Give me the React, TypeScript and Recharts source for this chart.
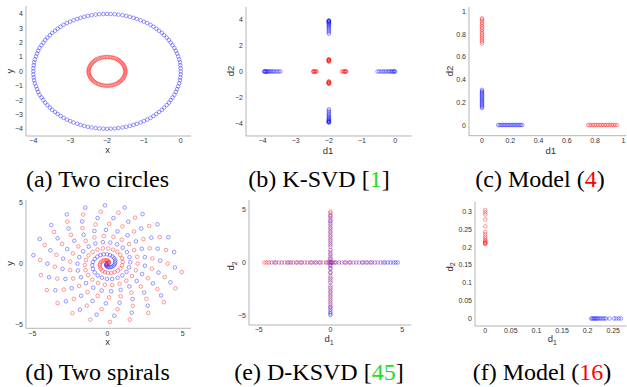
import React from 'react';
import { ScatterChart, Scatter, XAxis, YAxis } from 'recharts';

type Pt = [number, number];

// (a) two circles
const outerCircle: Pt[] = [
  [0, 0], [0, 0.21], [-0.01, 0.42], [-0.02, 0.63], [-0.04, 0.83], [-0.07, 1.04], [-0.1, 1.24], [-0.13, 1.43], [-0.17, 1.63], [-0.22, 1.82],
  [-0.27, 2], [-0.32, 2.18], [-0.38, 2.35], [-0.45, 2.52], [-0.51, 2.68], [-0.59, 2.83], [-0.66, 2.97], [-0.74, 3.11], [-0.82, 3.24], [-0.91, 3.36],
  [-1, 3.46], [-1.09, 3.56], [-1.19, 3.65], [-1.28, 3.73], [-1.38, 3.8], [-1.48, 3.86], [-1.58, 3.91], [-1.69, 3.95], [-1.79, 3.98], [-1.9, 3.99],
  [-2, 4], [-2.1, 3.99], [-2.21, 3.98], [-2.31, 3.95], [-2.42, 3.91], [-2.52, 3.86], [-2.62, 3.8], [-2.72, 3.73], [-2.81, 3.65], [-2.91, 3.56],
  [-3, 3.46], [-3.09, 3.36], [-3.18, 3.24], [-3.26, 3.11], [-3.34, 2.97], [-3.41, 2.83], [-3.49, 2.68], [-3.55, 2.52], [-3.62, 2.35], [-3.68, 2.18],
  [-3.73, 2], [-3.78, 1.82], [-3.83, 1.63], [-3.87, 1.43], [-3.9, 1.24], [-3.93, 1.04], [-3.96, 0.83], [-3.98, 0.63], [-3.99, 0.42], [-4, 0.21],
  [-4, 0], [-4, -0.21], [-3.99, -0.42], [-3.98, -0.63], [-3.96, -0.83], [-3.93, -1.04], [-3.9, -1.24], [-3.87, -1.43], [-3.83, -1.63], [-3.78, -1.82],
  [-3.73, -2], [-3.68, -2.18], [-3.62, -2.35], [-3.55, -2.52], [-3.49, -2.68], [-3.41, -2.83], [-3.34, -2.97], [-3.26, -3.11], [-3.18, -3.24], [-3.09, -3.36],
  [-3, -3.46], [-2.91, -3.56], [-2.81, -3.65], [-2.72, -3.73], [-2.62, -3.8], [-2.52, -3.86], [-2.42, -3.91], [-2.31, -3.95], [-2.21, -3.98], [-2.1, -3.99],
  [-2, -4], [-1.9, -3.99], [-1.79, -3.98], [-1.69, -3.95], [-1.58, -3.91], [-1.48, -3.86], [-1.38, -3.8], [-1.28, -3.73], [-1.19, -3.65], [-1.09, -3.56],
  [-1, -3.46], [-0.91, -3.36], [-0.82, -3.24], [-0.74, -3.11], [-0.66, -2.97], [-0.59, -2.83], [-0.51, -2.68], [-0.45, -2.52], [-0.38, -2.35], [-0.32, -2.18],
  [-0.27, -2], [-0.22, -1.82], [-0.17, -1.63], [-0.13, -1.43], [-0.1, -1.24], [-0.07, -1.04], [-0.04, -0.83], [-0.02, -0.63], [-0.01, -0.42], [0, -0.21],
];

const innerCircle: Pt[] = [
  [-1.5, 0], [-1.5, 0.09], [-1.51, 0.17], [-1.52, 0.26], [-1.53, 0.34], [-1.55, 0.42], [-1.57, 0.5], [-1.59, 0.57], [-1.62, 0.64], [-1.65, 0.71],
  [-1.68, 0.77], [-1.71, 0.82], [-1.75, 0.87], [-1.79, 0.91], [-1.83, 0.94], [-1.87, 0.97], [-1.91, 0.98], [-1.96, 1], [-2, 1], [-2.04, 1],
  [-2.09, 0.98], [-2.13, 0.97], [-2.17, 0.94], [-2.21, 0.91], [-2.25, 0.87], [-2.29, 0.82], [-2.32, 0.77], [-2.35, 0.71], [-2.38, 0.64], [-2.41, 0.57],
  [-2.43, 0.5], [-2.45, 0.42], [-2.47, 0.34], [-2.48, 0.26], [-2.49, 0.17], [-2.5, 0.09], [-2.5, 0], [-2.5, -0.09], [-2.49, -0.17], [-2.48, -0.26],
  [-2.47, -0.34], [-2.45, -0.42], [-2.43, -0.5], [-2.41, -0.57], [-2.38, -0.64], [-2.35, -0.71], [-2.32, -0.77], [-2.29, -0.82], [-2.25, -0.87], [-2.21, -0.91],
  [-2.17, -0.94], [-2.13, -0.97], [-2.09, -0.98], [-2.04, -1], [-2, -1], [-1.96, -1], [-1.91, -0.98], [-1.87, -0.97], [-1.83, -0.94], [-1.79, -0.91],
  [-1.75, -0.87], [-1.71, -0.82], [-1.68, -0.77], [-1.65, -0.71], [-1.62, -0.64], [-1.59, -0.57], [-1.57, -0.5], [-1.55, -0.42], [-1.53, -0.34], [-1.52, -0.26],
  [-1.51, -0.17], [-1.5, -0.09],
];

// (b) K-SVD codes
const ksvdBlue: Pt[] = [
  [-3.95, 0], [-3.94, 0], [-3.93, 0], [-3.91, 0], [-3.89, 0], [-3.87, 0], [-3.84, 0], [-3.81, 0], [-3.78, 0], [-3.74, 0], [-3.7, 0], [-3.66, 0], [-3.61, 0], [-3.56, 0], [-3.51, 0], [-3.46, 0],
  [0, 0], [-0.02, 0], [-0.04, 0], [-0.07, 0], [-0.1, 0], [-0.14, 0], [-0.18, 0], [-0.22, 0], [-0.27, 0], [-0.32, 0], [-0.37, 0], [-0.42, 0], [-0.48, 0], [-0.53, 0],
  [-2, 3.95], [-2, 3.94], [-2, 3.92], [-2, 3.9], [-2, 3.87], [-2, 3.83], [-2, 3.79], [-2, 3.74], [-2, 3.68], [-2, 3.61], [-2, 3.53], [-2, 3.45], [-2, 3.36], [-2, 3.26], [-2, 3.15], [-2, 3.04], [-2, 2.93],
  [-2, -3.95], [-2, -3.94], [-2, -3.92], [-2, -3.9], [-2, -3.87], [-2, -3.83], [-2, -3.79], [-2, -3.74], [-2, -3.68], [-2, -3.61], [-2, -3.53], [-2, -3.45], [-2, -3.36], [-2, -3.26], [-2, -3.15], [-2, -3.04], [-2, -2.93],
];

const ksvdRed: Pt[] = [
  [-2.47, 0], [-2.46, 0], [-2.45, 0], [-2.43, 0], [-2.41, 0], [-2.39, 0], [-2.37, 0],
  [-1.48, 0], [-1.49, 0], [-1.5, 0], [-1.52, 0], [-1.54, 0], [-1.57, 0], [-1.6, 0],
  [-2, 0.94], [-2, 0.93], [-2, 0.92], [-2, 0.9], [-2, 0.88], [-2, 0.85], [-2, 0.82], [-2, 0.79], [-2, 0.76],
  [-2, -0.94], [-2, -0.93], [-2, -0.92], [-2, -0.9], [-2, -0.88], [-2, -0.85], [-2, -0.82], [-2, -0.79], [-2, -0.76],
];

// (c) model (4)
const model4Blue: Pt[] = [
  [0, 0.15], [0, 0.16], [0, 0.17], [0, 0.18], [0, 0.19], [0, 0.2], [0, 0.21], [0, 0.22], [0, 0.23], [0, 0.24], [0, 0.25], [0, 0.26], [0, 0.27], [0, 0.28], [0, 0.29], [0, 0.3], [0, 0.31],
  [0.115, 0], [0.125, 0], [0.135, 0], [0.145, 0], [0.155, 0], [0.165, 0], [0.175, 0], [0.185, 0], [0.195, 0], [0.205, 0], [0.215, 0], [0.225, 0], [0.235, 0], [0.245, 0], [0.255, 0], [0.265, 0], [0.275, 0], [0.285, 0],
];

const model4Red: Pt[] = [
  [0, 0.72], [0, 0.735], [0, 0.75], [0, 0.765], [0, 0.78], [0, 0.795], [0, 0.81], [0, 0.825], [0, 0.84], [0, 0.855], [0, 0.87], [0, 0.885], [0, 0.9], [0, 0.915], [0, 0.93], [0, 0.94],
  [0.75, 0], [0.762, 0], [0.774, 0], [0.786, 0], [0.798, 0], [0.81, 0], [0.822, 0], [0.834, 0], [0.846, 0], [0.858, 0], [0.87, 0], [0.882, 0], [0.894, 0], [0.906, 0], [0.918, 0], [0.93, 0], [0.942, 0], [0.955, 0],
];

// (d) two spirals
const spiralRed: Pt[] = [
  [0.04, 0.01], [0.08, 0.05], [0.09, 0.1], [0.08, 0.16], [0.04, 0.22], [-0.03, 0.27], [-0.12, 0.29], [-0.22, 0.28], [-0.32, 0.24], [-0.42, 0.15],
  [-0.49, 0.03], [-0.52, -0.11], [-0.51, -0.27], [-0.45, -0.43], [-0.33, -0.58], [-0.17, -0.69], [0.03, -0.76], [0.25, -0.76], [0.47, -0.7], [0.68, -0.57],
  [0.85, -0.38], [0.97, -0.14], [1.01, 0.14], [0.97, 0.43], [0.85, 0.71], [0.65, 0.96], [0.37, 1.14], [0.04, 1.24], [-0.31, 1.25], [-0.67, 1.15],
  [-0.99, 0.96], [-1.26, 0.67], [-1.43, 0.3], [-1.51, -0.11], [-1.46, -0.53], [-1.29, -0.94], [-1.01, -1.3], [-0.63, -1.57], [-0.18, -1.72], [0.31, -1.75],
  [0.8, -1.64], [1.25, -1.39], [1.62, -1.01], [1.88, -0.54], [2, 0], [1.97, 0.56], [1.77, 1.11], [1.43, 1.59], [0.95, 1.96], [0.39, 2.19],
  [-0.24, 2.25], [-0.87, 2.14], [-1.45, 1.86], [-1.94, 1.41], [-2.3, 0.84], [-2.48, 0.17], [-2.48, -0.53], [-2.28, -1.21], [-1.89, -1.82], [-1.33, -2.31],
  [-0.66, -2.63], [0.1, -2.75], [0.87, -2.66], [1.59, -2.36], [2.21, -1.86], [2.68, -1.19], [2.95, -0.41], [2.99, 0.42], [2.8, 1.25], [2.38, 2],
  [1.76, 2.62], [0.99, 3.04], [0.11, 3.24], [-0.8, 3.19], [-1.67, 2.89], [-2.43, 2.35], [-3.02, 1.61], [-3.39, 0.72], [-3.5, -0.25], [-3.34, -1.22],
  [-2.91, -2.12], [-2.24, -2.87], [-1.38, -3.42], [-0.39, -3.71], [0.66, -3.72], [1.68, -3.44], [2.59, -2.87], [3.32, -2.07], [3.8, -1.09], [4, 0],
  [3.89, 1.11], [3.47, 2.17], [2.77, 3.07], [1.83, 3.75], [0.73, 4.16], [-0.45, 4.24], [-1.61, 4], [-2.68, 3.43], [-3.56, 2.59], [-4.18, 1.52],
  [-4.48, 0.31], [-4.43, -0.94], [-4.04, -2.15], [-3.32, -3.21], [-2.33, -4.04], [-1.14, -4.57], [0.17, -4.75], [1.48, -4.57], [2.71, -4.02], [3.74, -3.14],
  [4.51, -2.01], [4.93, -0.69],
];

const spiralBlue: Pt[] = [
  [-0.04, -0.01], [-0.08, -0.05], [-0.09, -0.1], [-0.08, -0.16], [-0.04, -0.22], [0.03, -0.27], [0.12, -0.29], [0.22, -0.28], [0.32, -0.24], [0.42, -0.15],
  [0.49, -0.03], [0.52, 0.11], [0.51, 0.27], [0.45, 0.43], [0.33, 0.58], [0.17, 0.69], [-0.03, 0.76], [-0.25, 0.76], [-0.47, 0.7], [-0.68, 0.57],
  [-0.85, 0.38], [-0.97, 0.14], [-1.01, -0.14], [-0.97, -0.43], [-0.85, -0.71], [-0.65, -0.96], [-0.37, -1.14], [-0.04, -1.24], [0.31, -1.25], [0.67, -1.15],
  [0.99, -0.96], [1.26, -0.67], [1.43, -0.3], [1.51, 0.11], [1.46, 0.53], [1.29, 0.94], [1.01, 1.3], [0.63, 1.57], [0.18, 1.72], [-0.31, 1.75],
  [-0.8, 1.64], [-1.25, 1.39], [-1.62, 1.01], [-1.88, 0.54], [-2, 0], [-1.97, -0.56], [-1.77, -1.11], [-1.43, -1.59], [-0.95, -1.96], [-0.39, -2.19],
  [0.24, -2.25], [0.87, -2.14], [1.45, -1.86], [1.94, -1.41], [2.3, -0.84], [2.48, -0.17], [2.48, 0.53], [2.28, 1.21], [1.89, 1.82], [1.33, 2.31],
  [0.66, 2.63], [-0.1, 2.75], [-0.87, 2.66], [-1.59, 2.36], [-2.21, 1.86], [-2.68, 1.19], [-2.95, 0.41], [-2.99, -0.42], [-2.8, -1.25], [-2.38, -2],
  [-1.76, -2.62], [-0.99, -3.04], [-0.11, -3.24], [0.8, -3.19], [1.67, -2.89], [2.43, -2.35], [3.02, -1.61], [3.39, -0.72], [3.5, 0.25], [3.34, 1.22],
  [2.91, 2.12], [2.24, 2.87], [1.38, 3.42], [0.39, 3.71], [-0.66, 3.72], [-1.68, 3.44], [-2.59, 2.87], [-3.32, 2.07], [-3.8, 1.09], [-4, 0],
  [-3.89, -1.11], [-3.47, -2.17], [-2.77, -3.07], [-1.83, -3.75], [-0.73, -4.16], [0.45, -4.24], [1.61, -4], [2.68, -3.43], [3.56, -2.59], [4.18, -1.52],
  [4.48, -0.31], [4.43, 0.94], [4.04, 2.15], [3.32, 3.21], [2.33, 4.04], [1.14, 4.57], [-0.17, 4.75], [-1.48, 4.57], [-2.71, 4.02], [-3.74, 3.14],
  [-4.51, 2.01], [-4.93, 0.69],
];

// (e) D-KSVD codes
const dksvdRedX = [-4.6, -4.45, -4.3, -3.9, -3.6, -3.2, -2.9, -2.6, -2.4, -2.1, -1.8, -1.4, -1.1, -0.8, -0.5, -0.3, -0.1, 0.05, 0.2, 0.4, 0.8, 1.1, 1.3, 1.6, 2.0, 2.3, 2.6, 2.9, 3.3, 3.7];
const dksvdBlueX = [-4.1, -3.8, -3.4, -3.0, -2.75, -2.3, -2.0, -1.6, -1.3, -1.0, -0.7, -0.2, 0.1, 0.3, 0.6, 1.0, 1.4, 1.8, 2.2, 2.5, 2.8, 3.1, 3.5, 3.8, 4.0, 4.2, 4.4, 4.55, 4.7];
const dksvdRedY = [4.85, 4.7, 4.5, 4.2, 3.9, 3.5, 3.1, 2.7, 2.3, 1.9, 1.5, 1.0, 0.6, 0.3, 0.1, -0.2, -0.5, -0.9, -1.3, -1.7, -2.2, -2.6, -3.0, -3.4, -3.8, -4.2];
const dksvdBlueY = [4.4, 4.0, 3.7, 3.3, 2.9, 2.5, 2.1, 1.7, 1.2, 0.8, 0.4, 0.0, -0.3, -0.6, -1.0, -1.5, -1.9, -2.4, -2.8, -3.2, -3.6, -4.0, -4.3, -4.5, -4.7, -4.85, -5.0];

// (f) model (16)
const model16RedY = [0.303, 0.297, 0.291, 0.277, 0.258, 0.242, 0.236, 0.229, 0.224, 0.219, 0.216, 0.213, 0.211, 0.21, 0.209];
const model16BlueX = [0.207, 0.209, 0.211, 0.213, 0.215, 0.217, 0.219, 0.221, 0.224, 0.227, 0.23, 0.233, 0.236, 0.243, 0.252, 0.256, 0.261, 0.265];

const BLUE = '#1a1aff';
const RED = '#ff1a1a';

const onAxisX = (xs: number[]): Pt[] => xs.map((x) => [x, 0]);
const onAxisY = (ys: number[]): Pt[] => ys.map((y) => [0, y]);

const ring = (color: string) => (props: any) => (
  <circle cx={props.cx} cy={props.cy} r={1.8} fill="none" stroke={color} strokeWidth={0.8} strokeOpacity={0.55} />
);

const fmt = (v: number) => String(v).replace('-', '\u2212');

const labelFont = '"Liberation Sans", Arial, Helvetica, sans-serif';
const captionFont = '"Liberation Serif", "DejaVu Serif", "Times New Roman", Times, serif';

const tickStyle = { fill: '#333', fontSize: 7, fontFamily: labelFont };

interface Series { data: Pt[]; color: string }
interface PanelProps {
  box: [number, number, number, number];
  xDomain: [number, number];
  yDomain: [number, number];
  xTicks: number[];
  yTicks: number[];
  series: Series[];
}

const Panel: React.FC<PanelProps> = ({ box, xDomain, yDomain, xTicks, yTicks, series }) => {
  const [l, t, r, b] = box;
  const w = r - l + 31;
  const h = b - t + 20;
  return (
    <div style={{ position: 'absolute', left: l - 30, top: t - 5, width: w, height: h }}>
      <ScatterChart width={w} height={h} margin={{ top: 5, right: 1, bottom: 0, left: 0 }}>
        <XAxis
          type="number"
          dataKey="x"
          domain={xDomain}
          ticks={xTicks}
          interval={0}
          allowDataOverflow
          height={15}
          tickLine={false}
          tickSize={2}
          tickMargin={0.5}
          stroke="#b4b4b4"
          tick={tickStyle}
          tickFormatter={fmt}
        />
        <YAxis
          type="number"
          dataKey="y"
          domain={yDomain}
          ticks={yTicks}
          interval={0}
          allowDataOverflow
          width={30}
          tickLine={false}
          tickSize={2}
          tickMargin={1}
          stroke="#b4b4b4"
          tick={tickStyle}
          tickFormatter={fmt}
        />
        {series.map((s, i) => (
          <Scatter
            key={i}
            data={s.data.map(([x, y]) => ({ x, y }))}
            shape={ring(s.color)}
            isAnimationActive={false}
          />
        ))}
      </ScatterChart>
    </div>
  );
};

const AxisTitle = ({ x, y, text, sub, rotate }: { x: number; y: number; text: string; sub?: string; rotate?: boolean }) => (
  <text
    x={x}
    y={y}
    textAnchor="middle"
    fontSize={9.5}
    style={{ fontFamily: labelFont }}
    fill="#333"
    transform={rotate ? `rotate(-90 ${x} ${y})` : undefined}
  >
    {text}
    {sub && <tspan dy={2.5} fontSize={7}>{sub}</tspan>}
  </text>
);

const Caption = ({ x, y, children }: { x: number; y: number; children: React.ReactNode }) => (
  <text x={x} y={y} textAnchor="middle" fontSize={24} style={{ fontFamily: captionFont }} fill="#000">
    {children}
  </text>
);

export default function App() {
  return (
    <div style={{ position: 'absolute', left: 0, top: 0, width: 627, height: 387, background: '#fff', overflow: 'hidden' }}>
      <Panel
        box={[26, 6, 191, 136]}
        xDomain={[-4.2, 0.28]}
        yDomain={[-4.5, 4.55]}
        xTicks={[-4, -3, -2, -1, 0]}
        yTicks={[-4, -3, -2, -1, 0, 1, 2, 3, 4]}
        series={[{ data: outerCircle, color: BLUE }, { data: innerCircle, color: RED }]}
      />
      <Panel
        box={[246, 7, 411.7, 136]}
        xDomain={[-4.5, 0.5]}
        yDomain={[-5, 5]}
        xTicks={[-4, -3, -2, -1, 0]}
        yTicks={[-4, -2, 0, 2, 4]}
        series={[{ data: ksvdBlue, color: BLUE }, { data: ksvdRed, color: RED }]}
      />
      <Panel
        box={[469.3, 7.3, 626.5, 136]}
        xDomain={[-0.092, 1.02]}
        yDomain={[-0.094, 1.04]}
        xTicks={[0, 0.2, 0.4, 0.6, 0.8, 1]}
        yTicks={[0, 0.2, 0.4, 0.6, 0.8, 1]}
        series={[{ data: model4Blue, color: BLUE }, { data: model4Red, color: RED }]}
      />
      <Panel
        box={[26, 200, 191, 328.3]}
        xDomain={[-5.42, 5.55]}
        yDomain={[-5.27, 5.19]}
        xTicks={[-5, 0, 5]}
        yTicks={[-5, 0, 5]}
        series={[{ data: spiralBlue, color: BLUE }, { data: spiralRed, color: RED }]}
      />
      <Panel
        box={[249.3, 200, 411.7, 325]}
        xDomain={[-5.68, 5.65]}
        yDomain={[-5.95, 5.95]}
        xTicks={[-5, 0, 5]}
        yTicks={[-5, 0, 5]}
        series={[
          { data: onAxisX(dksvdRedX), color: RED },
          { data: onAxisX(dksvdBlueX), color: BLUE },
          { data: onAxisY(dksvdRedY), color: RED },
          { data: onAxisY(dksvdBlueY), color: BLUE },
        ]}
      />
      <Panel
        box={[475, 201.7, 626.5, 325.7]}
        xDomain={[-0.02, 0.276]}
        yDomain={[-0.021, 0.326]}
        xTicks={[0, 0.05, 0.1, 0.15, 0.2, 0.25]}
        yTicks={[0, 0.05, 0.1, 0.15, 0.2, 0.25, 0.3]}
        series={[{ data: onAxisY(model16RedY), color: RED }, { data: onAxisX(model16BlueX), color: BLUE }]}
      />
      <svg width={627} height={387} style={{ position: 'absolute', left: 0, top: 0, pointerEvents: 'none' }}>
        <AxisTitle x={107.7} y={153} text="x" />
        <AxisTitle x={13} y={71} text="y" rotate />
        <AxisTitle x={328} y={154} text="d1" />
        <AxisTitle x={234} y={71} text="d2" rotate />
        <AxisTitle x={550.7} y={154} text="d1" />
        <AxisTitle x={453} y={71} text="d2" rotate />
        <AxisTitle x={107.7} y={345} text="x" />
        <AxisTitle x={13} y={263.3} text="y" rotate />
        <AxisTitle x={329} y={342} text="d" sub="1" />
        <AxisTitle x={234} y={266} text="d" sub="2" rotate />
        <AxisTitle x={552.3} y={342} text="d" sub="1" />
        <AxisTitle x={452.5} y={267} text="d" sub="2" rotate />

        <Caption x={97.5} y={187}>(a) Two circles</Caption>
        <Caption x={319} y={187}>
          (b) K-SVD [<tspan fill="#22dd22">1</tspan>]
        </Caption>
        <Caption x={540} y={187}>
          (c) Model (<tspan fill="#ff0000">4</tspan>)
        </Caption>
        <Caption x={97.5} y={380}>(d) Two spirals</Caption>
        <Caption x={319} y={380}>
          (e) D-KSVD [<tspan fill="#22dd22">45</tspan>]
        </Caption>
        <Caption x={542} y={380}>
          (f) Model (<tspan fill="#ff0000">16</tspan>)
        </Caption>
      </svg>
    </div>
  );
}
